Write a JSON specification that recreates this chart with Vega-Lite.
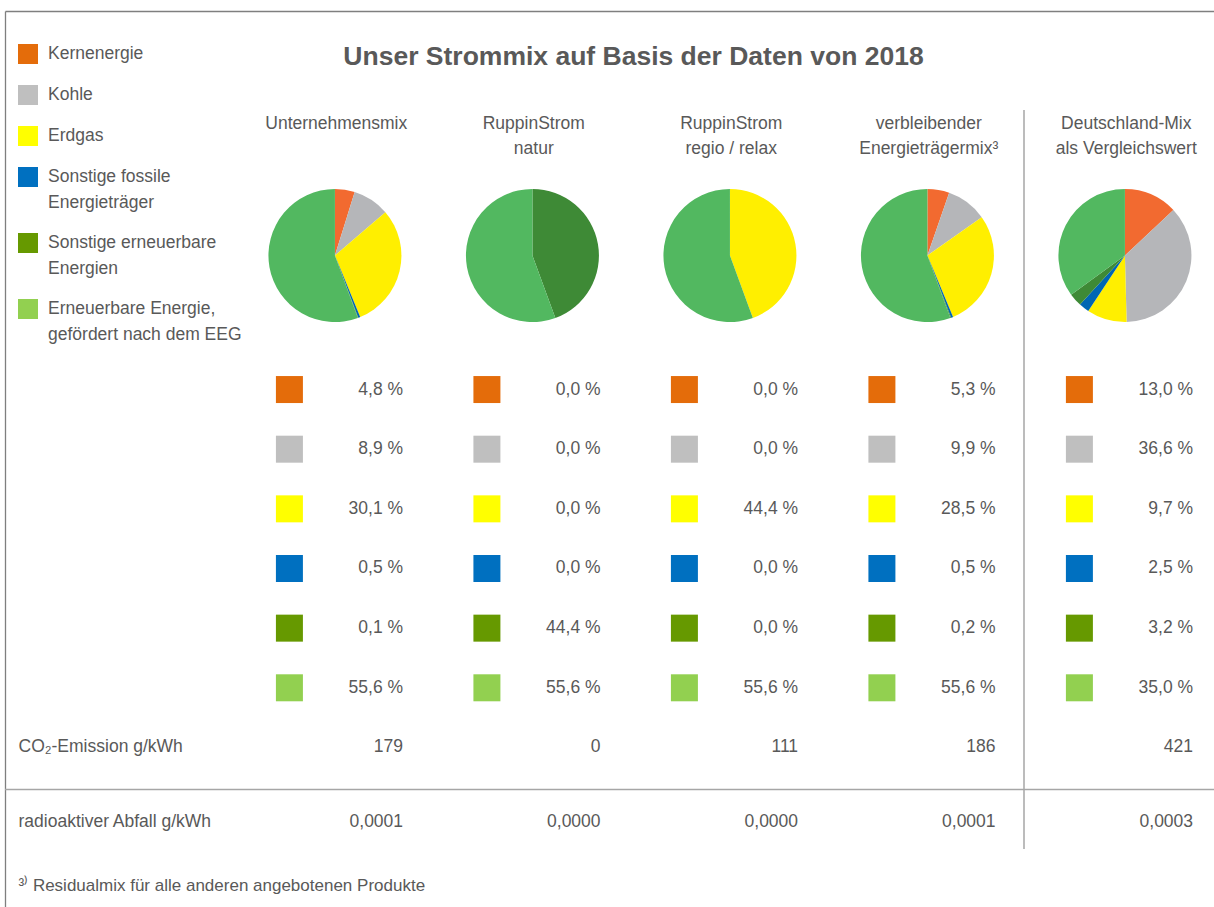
{
  "$schema": "https://vega.github.io/schema/vega-lite/v6.json",
  "width": 1209,
  "height": 896,
  "autosize": {"type": "none"},
  "padding": {"left": 5, "top": 11, "right": 0, "bottom": 0},
  "background": "white",
  "config": {
    "view": {"stroke": null},
    "font": "Liberation Sans",
    "locale": {"number": {"decimal": ",", "thousands": ".", "grouping": [3], "currency": ["", " %"]}},
    "text": {"font": "Liberation Sans", "fontSize": 17.5, "color": "#595959"},
    "style": {"guide-label": {"lineHeight": 26}}
  },
  "title": {
    "text": "Unser Strommix auf Basis der Daten von 2018",
    "anchor": "middle",
    "frame": "group",
    "font": "Liberation Sans",
    "fontSize": 26.5,
    "fontWeight": "bold",
    "color": "#595959",
    "offset": 0,
    "dy": 59,
    "dx": 24
  },
  "datasets": {
    "mix": [
      {"produkt": "Unternehmensmix", "quelle": "Kernenergie", "anteil": 4.8},
      {"produkt": "Unternehmensmix", "quelle": "Kohle", "anteil": 8.9},
      {"produkt": "Unternehmensmix", "quelle": "Erdgas", "anteil": 30.1},
      {"produkt": "Unternehmensmix", "quelle": "Sonstige fossile Energieträger", "anteil": 0.5},
      {"produkt": "Unternehmensmix", "quelle": "Sonstige erneuerbare Energien", "anteil": 0.1},
      {"produkt": "Unternehmensmix", "quelle": "Erneuerbare Energie, gefördert nach dem EEG", "anteil": 55.6},
      {"produkt": "RuppinStrom natur", "quelle": "Kernenergie", "anteil": 0.0},
      {"produkt": "RuppinStrom natur", "quelle": "Kohle", "anteil": 0.0},
      {"produkt": "RuppinStrom natur", "quelle": "Erdgas", "anteil": 0.0},
      {"produkt": "RuppinStrom natur", "quelle": "Sonstige fossile Energieträger", "anteil": 0.0},
      {"produkt": "RuppinStrom natur", "quelle": "Sonstige erneuerbare Energien", "anteil": 44.4},
      {"produkt": "RuppinStrom natur", "quelle": "Erneuerbare Energie, gefördert nach dem EEG", "anteil": 55.6},
      {"produkt": "RuppinStrom regio / relax", "quelle": "Kernenergie", "anteil": 0.0},
      {"produkt": "RuppinStrom regio / relax", "quelle": "Kohle", "anteil": 0.0},
      {"produkt": "RuppinStrom regio / relax", "quelle": "Erdgas", "anteil": 44.4},
      {"produkt": "RuppinStrom regio / relax", "quelle": "Sonstige fossile Energieträger", "anteil": 0.0},
      {"produkt": "RuppinStrom regio / relax", "quelle": "Sonstige erneuerbare Energien", "anteil": 0.0},
      {"produkt": "RuppinStrom regio / relax", "quelle": "Erneuerbare Energie, gefördert nach dem EEG", "anteil": 55.6},
      {"produkt": "verbleibender Energieträgermix³", "quelle": "Kernenergie", "anteil": 5.3},
      {"produkt": "verbleibender Energieträgermix³", "quelle": "Kohle", "anteil": 9.9},
      {"produkt": "verbleibender Energieträgermix³", "quelle": "Erdgas", "anteil": 28.5},
      {"produkt": "verbleibender Energieträgermix³", "quelle": "Sonstige fossile Energieträger", "anteil": 0.5},
      {"produkt": "verbleibender Energieträgermix³", "quelle": "Sonstige erneuerbare Energien", "anteil": 0.2},
      {"produkt": "verbleibender Energieträgermix³", "quelle": "Erneuerbare Energie, gefördert nach dem EEG", "anteil": 55.6},
      {"produkt": "Deutschland-Mix als Vergleichswert", "quelle": "Kernenergie", "anteil": 13.0},
      {"produkt": "Deutschland-Mix als Vergleichswert", "quelle": "Kohle", "anteil": 36.6},
      {"produkt": "Deutschland-Mix als Vergleichswert", "quelle": "Erdgas", "anteil": 9.7},
      {"produkt": "Deutschland-Mix als Vergleichswert", "quelle": "Sonstige fossile Energieträger", "anteil": 2.5},
      {"produkt": "Deutschland-Mix als Vergleichswert", "quelle": "Sonstige erneuerbare Energien", "anteil": 3.2},
      {"produkt": "Deutschland-Mix als Vergleichswert", "quelle": "Erneuerbare Energie, gefördert nach dem EEG", "anteil": 35.0}
    ],
    "kennzahlen": [
      {"produkt": "Unternehmensmix", "co2": 179, "abfall": 0.0001},
      {"produkt": "RuppinStrom natur", "co2": 0, "abfall": 0.0},
      {"produkt": "RuppinStrom regio / relax", "co2": 111, "abfall": 0.0},
      {"produkt": "verbleibender Energieträgermix³", "co2": 186, "abfall": 0.0001},
      {"produkt": "Deutschland-Mix als Vergleichswert", "co2": 421, "abfall": 0.0003}
    ]
  },
  "layer": [
    {
      "data": {"name": "mix"},
      "mark": {"type": "point", "shape": "square", "filled": true, "size": 729, "opacity": 1, "strokeWidth": 0},
      "encoding": {
        "x": {
          "field": "produkt", "type": "nominal", "bandPosition": 0.3185,
          "scale": {
            "type": "band",
            "domain": ["Unternehmensmix", "RuppinStrom natur", "RuppinStrom regio / relax", "verbleibender Energieträgermix³", "Deutschland-Mix als Vergleichswert"],
            "paddingInner": 0, "paddingOuter": 0.5608, "align": 1
          },
          "axis": {
            "orient": "top", "title": null, "ticks": false, "tickSize": 0, "grid": false,
            "domain": true, "domainColor": "#7F7F7F", "domainWidth": 1.3,
            "labelPadding": -117.3, "labelBaseline": "alphabetic", "labelAlign": "center", "labelAngle": 0,
            "labelFont": "Liberation Sans", "labelFontSize": 17.5, "labelColor": "#595959", "labelLineHeight": 25,
            "labelLimit": 300, "labelOverlap": false, "labelOffset": 11,
            "labelExpr": "indexof(datum.label, ' ') > 0 ? [substring(datum.label, 0, indexof(datum.label, ' ')), substring(datum.label, indexof(datum.label, ' ') + 1)] : datum.label"
          }
        },
        "y": {
          "field": "quelle", "type": "nominal",
          "scale": {
            "type": "band",
            "domain": ["_a", "_b", "_c", "_d", "_e", "Kernenergie", "Kohle", "Erdgas", "Sonstige fossile Energieträger", "Sonstige erneuerbare Energien", "Erneuerbare Energie, gefördert nach dem EEG", "CO₂-Emission g/kWh", "radioaktiver Abfall g/kWh", "_f"],
            "paddingInner": 0, "paddingOuter": 0.5105, "align": 0.8287
          },
          "axis": {
            "orient": "left", "ticks": false, "tickSize": 0, "grid": false,
            "domain": true, "domainColor": "#7F7F7F", "domainWidth": 1.3,
            "labelPadding": -13, "labelAlign": "left", "labelBaseline": "middle",
            "labelFont": "Liberation Sans", "labelFontSize": 17.5, "labelColor": "#595959", "labelLimit": 300, "labelOverlap": false,
            "labelExpr": "indexof(datum.label, 'g/kWh') > 0 ? datum.label : ''",
            "labelOffset": {"condition": {"test": "datum.value == 'radioaktiver Abfall g/kWh'", "value": 15}, "value": 0},
            "title": "³⁾ Residualmix für alle anderen angebotenen Produkte",
            "titleAngle": 0, "titleAlign": "left", "titleBaseline": "middle", "titleX": 13, "titleY": 874,
            "titleFont": "Liberation Sans", "titleFontSize": 17, "titleFontWeight": "normal", "titleColor": "#595959"
          }
        },
        "color": {
          "field": "quelle", "type": "nominal",
          "scale": {
            "domain": ["Kernenergie", "Kohle", "Erdgas", "Sonstige fossile Energieträger", "Sonstige erneuerbare Energien", "Erneuerbare Energie, gefördert nach dem EEG"],
            "range": ["#E46C0A", "#BFBFBF", "#FFFF00", "#0070C0", "#669900", "#92D050"]
          },
          "legend": {
            "orient": "none", "legendX": 13, "legendY": 33, "title": null, "padding": 0,
            "symbolType": "square", "symbolSize": 400, "symbolStrokeWidth": 0, "symbolOpacity": 1,
            "labelFont": "Liberation Sans", "labelFontSize": 17.5, "labelColor": "#595959", "labelOffset": 10,
            "labelLimit": 300, "labelBaseline": "middle", "rowPadding": 21,
            "labelExpr": "indexof(datum.label, ',') > 0 ? [substring(datum.label, 0, indexof(datum.label, ',') + 1), substring(datum.label, indexof(datum.label, ',') + 2)] : (indexof(datum.label, 'Sonstige') == 0 ? [substring(datum.label, 0, lastindexof(datum.label, ' ')), substring(datum.label, lastindexof(datum.label, ' ') + 1)] : datum.label)"
          }
        }
      }
    },
    {
      "data": {"name": "mix"},
      "mark": {"type": "text", "align": "right", "baseline": "middle", "fontSize": 17.5, "color": "#595959"},
      "encoding": {
        "x": {"field": "produkt", "type": "nominal", "bandPosition": 0.894},
        "y": {"field": "quelle", "type": "nominal"},
        "text": {"field": "anteil", "type": "quantitative", "format": "$.1f"}
      }
    },
    {
      "data": {"name": "mix"},
      "transform": [{"stack": "anteil", "groupby": ["produkt"], "offset": "normalize", "as": ["t0", "t1"]}],
      "mark": {"type": "arc", "radius": 66.5, "yOffset": -134},
      "encoding": {
        "x": {"field": "produkt", "type": "nominal", "bandPosition": 0.549},
        "y": {"datum": "Kernenergie", "type": "nominal"},
        "theta": {"field": "t0", "type": "quantitative", "scale": {"domain": [0, 1]}},
        "theta2": {"field": "t1"},
        "fill": {
          "field": "quelle", "type": "nominal", "legend": null,
          "scale": {
            "domain": ["Kernenergie", "Kohle", "Erdgas", "Sonstige fossile Energieträger", "Sonstige erneuerbare Energien", "Erneuerbare Energie, gefördert nach dem EEG"],
            "range": ["#F26A30", "#B5B6B9", "#FFEF00", "#0066B3", "#3E8A36", "#52B860"]
          }
        }
      }
    },
    {
      "data": {"name": "kennzahlen"},
      "mark": {"type": "text", "align": "right", "baseline": "middle", "fontSize": 17.5, "color": "#595959"},
      "encoding": {
        "x": {"field": "produkt", "type": "nominal", "bandPosition": 0.894},
        "y": {"datum": "CO₂-Emission g/kWh", "type": "nominal"},
        "text": {"field": "co2", "type": "quantitative", "format": "d"}
      }
    },
    {
      "data": {"name": "kennzahlen"},
      "mark": {"type": "text", "align": "right", "baseline": "middle", "fontSize": 17.5, "color": "#595959"},
      "encoding": {
        "x": {"field": "produkt", "type": "nominal", "bandPosition": 0.894},
        "y": {"datum": "radioaktiver Abfall g/kWh", "type": "nominal", "bandPosition": 0.751},
        "text": {"field": "abfall", "type": "quantitative", "format": ".4f"}
      }
    },
    {
      "data": {"values": [{"linie": "Trennlinie"}]},
      "mark": {"type": "rule", "color": "#A6A6A6", "strokeWidth": 1.5},
      "encoding": {
        "y": {"datum": "radioaktiver Abfall g/kWh", "type": "nominal", "bandPosition": 0.206}
      }
    },
    {
      "data": {"values": [{"linie": "Trennlinie"}]},
      "mark": {"type": "rule", "color": "#A6A6A6", "strokeWidth": 1.5, "yOffset": -279.5, "y2Offset": 42},
      "encoding": {
        "x": {"datum": "Deutschland-Mix als Vergleichswert", "type": "nominal", "bandPosition": 0.038},
        "y": {"datum": "Kernenergie", "type": "nominal"},
        "y2": {"datum": "radioaktiver Abfall g/kWh"}
      }
    }
  ]
}
